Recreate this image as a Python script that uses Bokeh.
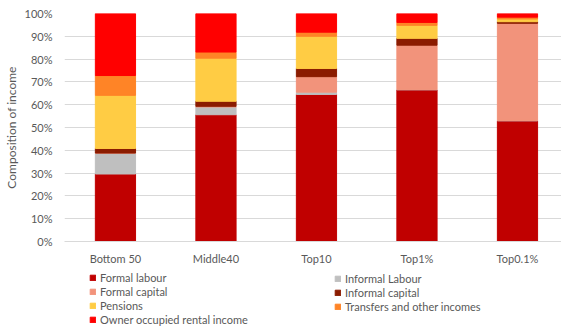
from bokeh.plotting import figure
from bokeh.layouts import column
from bokeh.models import ColumnDataSource, Legend, LegendItem, NumeralTickFormatter, FixedTicker, Range1d
from bokeh.embed import file_html
from bokeh.resources import INLINE

groups = ["Bottom 50", "Middle40", "Top10", "Top1%", "Top0.1%"]
series = ["Formal labour", "Informal Labour", "Formal capital", "Informal capital",
          "Pensions", "Transfers and other incomes", "Owner occupied rental income"]
formal_labour = [29.6, 55.6, 64.5, 66.5, 52.9]
informal_labour = [9.2, 3.4, 1.0, 0.2, 0.2]
formal_capital = [0.0, 0.3, 6.8, 19.4, 42.6]
informal_capital = [2.0, 2.2, 3.6, 3.0, 0.7]
pensions = [23.3, 18.9, 14.1, 5.7, 1.2]
transfers = [8.7, 2.7, 1.8, 1.3, 0.8]
owner_rental = [27.2, 16.9, 8.2, 3.9, 1.6]
colors = ["#C00000", "#BFBFBF", "#F2937B", "#8B1C00", "#FFCC44", "#FF8426", "#FF0000"]

values = [formal_labour, informal_labour, formal_capital, informal_capital, pensions, transfers, owner_rental]
keys = ["s%d" % i for i in range(len(series))]
data = {"x": list(range(len(groups)))}
for k, v in zip(keys, values):
    data[k] = [a / 100.0 for a in v]
source = ColumnDataSource(data)

FONT = "Lato"
TXT = "#595959"

p = figure(width=561, height=270, output_backend="svg", toolbar_location=None,
           x_range=Range1d(-0.507, 4.438), y_range=Range1d(0, 1),
           min_border_left=64, min_border_right=0, min_border_top=13, min_border_bottom=29)
p.outline_line_color = None

renderers = p.vbar_stack(keys, x="x", width=0.4, color=colors, source=source)

p.xaxis.ticker = FixedTicker(ticks=list(range(len(groups))))
p.xaxis.major_label_overrides = {i: g for i, g in enumerate(groups)}
p.yaxis.ticker = FixedTicker(ticks=[i / 10 for i in range(11)])
p.yaxis.formatter = NumeralTickFormatter(format="0%")
p.yaxis.axis_label = "Composition of income"
p.yaxis.axis_label_text_font = FONT
p.yaxis.axis_label_text_font_size = "12px"
p.yaxis.axis_label_text_font_style = "normal"
p.yaxis.axis_label_text_color = TXT
p.yaxis.axis_label_standoff = 3
for ax in (p.xaxis, p.yaxis):
    ax.major_label_text_font = FONT
    ax.major_label_text_font_size = "11px"
    ax.major_label_text_color = TXT
    ax.major_tick_line_color = None
    ax.minor_tick_line_color = None
    ax.major_tick_out = 0
    ax.major_tick_in = 0
    ax.minor_tick_out = 0
    ax.minor_tick_in = 0
p.yaxis.axis_line_color = None
p.xaxis.axis_line_color = "#D9D9D9"
p.yaxis.major_label_standoff = 12
p.xaxis.major_label_standoff = 10
p.xgrid.grid_line_color = None
p.ygrid.grid_line_color = "#D9D9D9"

# legend panel (swatch renderers hold one point outside the visible range)
q = figure(width=561, height=56, output_backend="svg", toolbar_location=None,
           x_range=Range1d(0, 1), y_range=Range1d(0, 1), x_axis_type=None, y_axis_type=None,
           min_border_left=0, min_border_right=0, min_border_top=0, min_border_bottom=0)
q.outline_line_color = None
q.xgrid.visible = False
q.ygrid.visible = False
swatches = []
for c in colors:
    swatches.append(q.vbar(x="x", top="top", bottom="bottom", width=0.01, color=c,
                           source=ColumnDataSource(dict(x=[-10], top=[-10], bottom=[-11]))))

def mk(idx, loc):
    items = [LegendItem(label=series[i], renderers=[swatches[i]]) for i in idx]
    return Legend(items=items, location=loc, padding=0, margin=0, spacing=1,
                  glyph_width=7, glyph_height=7, label_height=12, label_standoff=4,
                  label_text_font=FONT, label_text_font_size="11px", label_text_color=TXT,
                  border_line_color=None, background_fill_alpha=0)

q.add_layout(mk((0, 2, 4, 6), (25, 0)), "center")
q.add_layout(mk((1, 3, 5), (270, 13)), "center")

layout = column(p, q, spacing=0)
open("out.html", "w").write(file_html(layout, INLINE))
